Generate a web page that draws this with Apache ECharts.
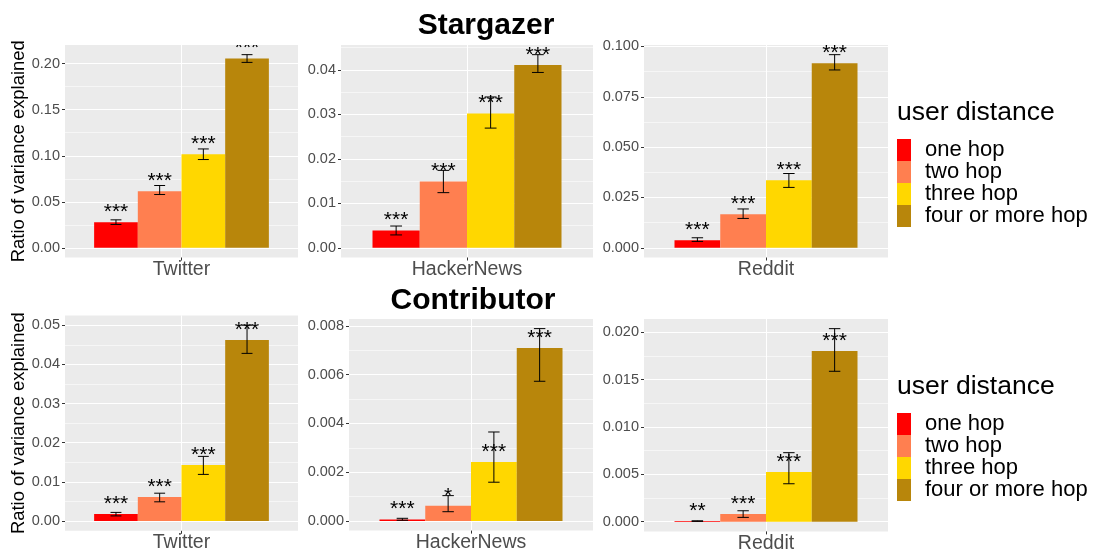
<!DOCTYPE html>
<html><head><meta charset="utf-8">
<script src="https://cdn.jsdelivr.net/npm/echarts@6/dist/echarts.min.js"></script>
<style>html,body{margin:0;padding:0;background:#fff}#c{width:1101px;height:554px}</style>
</head><body><div id="c"></div>
<script>
// ---------- data ----------
const hops = ['one hop', 'two hop', 'three hop', 'four or more hop'];
const hopColors = ['#FF0000', '#FF7F50', '#FFD700', '#B8860B'];
const platforms = ['Twitter', 'HackerNews', 'Reddit'];
const rowTitles = ['Stargazer', 'Contributor'];
const legendTitle = 'user distance';
const yTitle = 'Ratio of variance explained';

// Stargazer
const starTwitterVal = [0.0279, 0.0615, 0.1016, 0.2057];
const starTwitterLo  = [0.0254, 0.0579, 0.0959, 0.2014];
const starTwitterHi  = [0.0304, 0.0677, 0.1074, 0.2098];
const starTwitterSig = ['***', '***', '***', '***'];
const starTwitterTicks = ['0.00', '0.05', '0.10', '0.15', '0.20'];
const starTwitterMinor = [0.025, 0.075, 0.125, 0.175];

const starHNVal = [0.0039, 0.0149, 0.0302, 0.0411];
const starHNLo  = [0.0029, 0.0124, 0.0269, 0.0394];
const starHNHi  = [0.0049, 0.0174, 0.0339, 0.0434];
const starHNSig = ['***', '***', '***', '***'];
const starHNTicks = ['0.00', '0.01', '0.02', '0.03', '0.04'];
const starHNMinor = [0.005, 0.015, 0.025, 0.035, 0.045];

const starRedditVal = [0.0038, 0.0167, 0.0336, 0.0916];
const starRedditLo  = [0.0032, 0.0146, 0.0300, 0.0883];
const starRedditHi  = [0.0050, 0.0193, 0.0369, 0.0959];
const starRedditSig = ['***', '***', '***', '***'];
const starRedditTicks = ['0.000', '0.025', '0.050', '0.075', '0.100'];
const starRedditMinor = [0.0125, 0.0375, 0.0625, 0.0875];

// Contributor
const contTwitterVal = [0.0018, 0.0061, 0.0143, 0.0462];
const contTwitterLo  = [0.0013, 0.0049, 0.0119, 0.0428];
const contTwitterHi  = [0.0022, 0.0071, 0.0165, 0.0500];
const contTwitterSig = ['***', '***', '***', '***'];
const contTwitterTicks = ['0.00', '0.01', '0.02', '0.03', '0.04', '0.05'];
const contTwitterMinor = [0.005, 0.015, 0.025, 0.035, 0.045];

const contHNVal = [0.00006, 0.00062, 0.00242, 0.00710];
const contHNLo  = [0.00003, 0.00038, 0.00159, 0.00573];
const contHNHi  = [0.00011, 0.00104, 0.00365, 0.00789];
const contHNSig = ['***', '*', '***', '***'];
const contHNTicks = ['0.000', '0.002', '0.004', '0.006', '0.008'];
const contHNMinor = [0.001, 0.003, 0.005, 0.007];

const contRedditVal = [0.00007, 0.00081, 0.00525, 0.01802];
const contRedditLo  = [0.00004, 0.00046, 0.00401, 0.01588];
const contRedditHi  = [0.00010, 0.00116, 0.00729, 0.02038];
const contRedditSig = ['**', '***', '***', '***'];
const contRedditTicks = ['0.000', '0.005', '0.010', '0.015', '0.020'];
const contRedditMinor = [0.0025, 0.0075, 0.0125, 0.0175];

const panels = [
  {platform: platforms[0], val: starTwitterVal, lo: starTwitterLo, hi: starTwitterHi, sig: starTwitterSig, ticks: starTwitterTicks, minor: starTwitterMinor},
  {platform: platforms[1], val: starHNVal, lo: starHNLo, hi: starHNHi, sig: starHNSig, ticks: starHNTicks, minor: starHNMinor},
  {platform: platforms[2], val: starRedditVal, lo: starRedditLo, hi: starRedditHi, sig: starRedditSig, ticks: starRedditTicks, minor: starRedditMinor},
  {platform: platforms[0], val: contTwitterVal, lo: contTwitterLo, hi: contTwitterHi, sig: contTwitterSig, ticks: contTwitterTicks, minor: contTwitterMinor},
  {platform: platforms[1], val: contHNVal, lo: contHNLo, hi: contHNHi, sig: contHNSig, ticks: contHNTicks, minor: contHNMinor},
  {platform: platforms[2], val: contRedditVal, lo: contRedditLo, hi: contRedditHi, sig: contRedditSig, ticks: contRedditTicks, minor: contRedditMinor}
];

// ---------- layout ----------
const FONT = "'Liberation Sans', Arial, Helvetica, sans-serif";
const boxes = [
  {left: 65,  top: 45,  width: 233, height: 212.5},
  {left: 341, top: 45,  width: 252, height: 212.5},
  {left: 644, top: 45,  width: 244, height: 212.5},
  {left: 65,  top: 315.4, width: 233, height: 215.4},
  {left: 349, top: 319, width: 244, height: 211.6},
  {left: 644, top: 319, width: 244, height: 212.4}
];

const grid = [], xAxis = [], yAxis = [], series = [];
panels.forEach((p, i) => {
  const b = boxes[i];
  grid.push({left: b.left, top: b.top, width: b.width, height: b.height, show: true,
    backgroundColor: '#EBEBEB', borderWidth: 0, containLabel: false});
  const R = Math.max.apply(null, p.hi);
  const ymin = -0.05 * R, ymax = 1.05 * R;
  const tickVals = p.ticks.map(Number);
  // category axis
  xAxis.push({type: 'category', gridIndex: i, data: [p.platform], position: 'bottom',
    axisLine: {show: false, onZero: false},
    axisTick: {show: true, alignWithLabel: true, length: 3, lineStyle: {color: '#333333', width: 1}},
    axisLabel: {fontSize: 19.5, color: '#4D4D4D', fontFamily: FONT, margin: 2},
    splitLine: {show: false}});
  // helper axis for the vertical grid line at the category centre
  xAxis.push({type: 'value', gridIndex: i, min: -1, max: 1, show: true, position: 'top',
    axisLine: {show: false, onZero: false}, axisLabel: {show: false},
    axisTick: {show: false, customValues: [0]},
    splitLine: {show: true, lineStyle: {color: '#FFFFFF', width: 1.1}}});
  yAxis.push({type: 'value', gridIndex: i, min: ymin, max: ymax, position: 'left',
    name: (i % 3 === 0) ? yTitle : '', nameLocation: 'middle', nameRotate: 90, nameGap: 36,
    nameTextStyle: {fontSize: 18.4, color: '#000', fontFamily: FONT},
    axisLine: {show: false, onZero: false},
    axisTick: {show: true, length: 3, customValues: tickVals, lineStyle: {color: '#333333', width: 1}},
    axisLabel: {show: true, customValues: tickVals, fontSize: 14.5, color: '#4D4D4D', fontFamily: FONT, margin: 5,
      formatter: v => { const k = tickVals.findIndex(t => Math.abs(t - v) < 1e-12); return k >= 0 ? p.ticks[k] : ''; }},
    splitLine: {show: true, lineStyle: {color: '#FFFFFF', width: 1.1}}});
  yAxis.push({type: 'value', gridIndex: i, min: ymin, max: ymax, position: 'right',
    axisLine: {show: false, onZero: false}, axisLabel: {show: false},
    axisTick: {show: false, customValues: p.minor},
    splitLine: {show: true, lineStyle: {color: '#FFFFFF', width: 0.55}}});

  hops.forEach((h, k) => {
    series.push({type: 'bar', name: h, xAxisIndex: 2 * i, yAxisIndex: 2 * i,
      data: [p.val[k]], barGap: '0%', barCategoryGap: '25%',
      itemStyle: {color: hopColors[k]}, silent: true, z: 2});
  });
  const errData = hops.map((h, k) => [0, k, p.val[k], p.lo[k], p.hi[k]]);
  series.push({type: 'custom', xAxisIndex: 2 * i, yAxisIndex: 2 * i, clip: true, z: 5,
    encode: {x: 0, y: 2}, data: errData, silent: true,
    renderItem: (params, api) => {
      const k = api.value(1);
      const band = api.size([1, 0])[0];
      const bw = band * 0.75 / 4;
      const c0 = api.coord([0, 0]);
      const cx = c0[0] - band * 0.375 + bw * (k + 0.5);
      const yv = api.coord([0, api.value(2)])[1];
      const ylo = api.coord([0, api.value(3)])[1];
      const yhi = api.coord([0, api.value(4)])[1];
      const hw = bw * 0.125;
      const ls = {stroke: '#000', lineWidth: 1};
      return {type: 'group', children: [
        {type: 'line', shape: {x1: cx, y1: ylo, x2: cx, y2: yhi}, style: ls},
        {type: 'line', shape: {x1: cx - hw, y1: ylo, x2: cx + hw, y2: ylo}, style: ls},
        {type: 'line', shape: {x1: cx - hw, y1: yhi, x2: cx + hw, y2: yhi}, style: ls},
        {type: 'text', x: cx, y: yv - 10, style: {text: p.sig[params.dataIndex], textAlign: 'center',
          textVerticalAlign: 'middle', font: '21px ' + FONT, fill: '#000'}}
      ]};
    }});
});

const legends = [139, 413].map(t => ({
  data: hops, orient: 'vertical', left: 897, top: t, itemWidth: 14, itemHeight: 22, itemGap: 0,
  padding: 0, icon: 'rect', selectedMode: false,
  textStyle: {fontSize: 22, lineHeight: 20, color: '#000', fontFamily: FONT, padding: [0, 0, 0, 9]}
}));

const graphic = [
  {type: 'text', x: 486, y: 26, style: {text: rowTitles[0], textAlign: 'center', textVerticalAlign: 'middle', font: 'bold 30px ' + FONT, fill: '#000'}},
  {type: 'text', x: 473, y: 301, style: {text: rowTitles[1], textAlign: 'center', textVerticalAlign: 'middle', font: 'bold 30px ' + FONT, fill: '#000'}},
  {type: 'text', x: 897, y: 113, style: {text: legendTitle, textAlign: 'left', textVerticalAlign: 'middle', font: '26.5px ' + FONT, fill: '#000'}},
  {type: 'text', x: 897, y: 387, style: {text: legendTitle, textAlign: 'left', textVerticalAlign: 'middle', font: '26.5px ' + FONT, fill: '#000'}}
];

const chart = echarts.init(document.getElementById('c'), null, {renderer: 'canvas'});
chart.setOption({animation: false, backgroundColor: '#FFFFFF', grid, xAxis, yAxis, series, legend: legends, graphic});
</script></body></html>
